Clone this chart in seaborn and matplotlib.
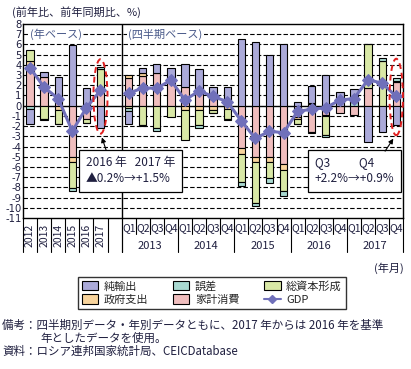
import numpy as np
import pandas as pd
import matplotlib.pyplot as plt
import matplotlib.transforms as mtransforms
from matplotlib.patches import Ellipse, Patch
from matplotlib.lines import Line2D
import seaborn as sns

sns.set_style("white")
plt.rcParams['font.family'] = ['Noto Sans CJK JP', 'DejaVu Sans']

# --- data (annual 2012-2017, then quarterly 2013Q1-2017Q4) ---
years_a = ['2012', '2013', '2014', '2015', '2016', '2017']
q_labels = ['Q1', 'Q2', 'Q3', 'Q4']
q_years = ['2013', '2014', '2015', '2016', '2017']

hh_a = [4.0, 2.85, 0.9, -5.0, -1.3, 1.5]
gov_a = [0.4, 0.0, -0.4, -0.5, 0.0, 0.0]
inv_a = [1.05, -1.35, -1.35, -2.6, -0.35, 2.1]
err_a = [-0.3, -0.05, -0.05, -0.3, -0.05, 0.2]
nx_a = [-1.45, 0.45, 1.9, 5.9, 1.7, -2.2]
gdp_a = [3.7, 1.8, 0.7, -2.5, -0.2, 1.5]

hh_q = [2.75, 2.95, 3.2, 2.35, 1.85, 1.75, 0.7, 0.7,
        -4.1, -5.0, -5.0, -5.75, -1.1, -2.55, -0.92, -0.7,
        -0.92, 1.7, 0.0, 2.35]
gov_q = [0.25, 0.22, 0.0, 0.0, -0.4, -0.4, -0.45, -0.33,
         -0.6, -0.5, -0.5, -0.5, -0.25, 0.2, -0.1, 0.0,
         0.0, 0.0, 0.0, 0.0]
inv_q = [-0.25, -1.85, -2.15, -1.1, -2.95, -1.45, -0.25, -1.0,
         -2.75, -4.0, -1.6, -2.1, -0.4, 0.05, -1.85, 0.0,
         0.0, 4.3, 4.37, 0.1]
err_q = [-0.25, -0.1, -0.35, 0.0, 0.0, -0.3, -0.05, -0.05,
         -0.4, -0.3, -0.5, -0.45, -0.05, -0.1, -0.15, 0.0,
         0.4, 0.05, 0.33, 0.3]
nx_q = [-1.25, 0.53, 0.9, 1.35, 2.25, 1.8, 1.15, 1.15,
        6.5, 6.27, 4.95, 6.05, 0.4, 1.7, 3.0, 1.37,
        1.2, -3.6, -2.55, -1.9]
gdp_q = [1.2, 1.75, 1.7, 2.5, 0.55, 1.45, 0.9, 0.4,
         -1.5, -3.2, -2.5, -2.65, -0.55, -0.35, -0.2, 0.55,
         0.7, 2.55, 2.2, 0.9]

comps = {
    '家計消費': (hh_a, hh_q, '#F0BEBE'),
    '政府支出': (gov_a, gov_q, '#F8D49C'),
    '総資本形成': (inv_a, inv_q, '#D9E8A6'),
    '誤差': (err_a, err_q, '#A9D9D1'),
    '純輸出': (nx_a, nx_q, '#ABAAD9'),
}

pos_a = np.arange(len(years_a))
pos_q = np.arange(len(gdp_q)) + len(years_a) + 1

fig = plt.figure(figsize=(4.11, 3.69), dpi=100)
ax = fig.add_axes([23 / 411, 1 - 218 / 369, 380.3 / 411, 194 / 369])

# grid lines
for v in range(-10, 8):
    if v == 0:
        ax.axhline(v, color='black', lw=1.0, zorder=1)
    else:
        ax.axhline(v, color='black', lw=0.8, ls=(0, (4, 2)), zorder=0)
ax.axvline(6.5, color='black', lw=1.0, zorder=1)

# stacked bars (positive up, negative down)
x_all = np.concatenate([pos_a, pos_q])
pos_base = np.zeros(len(x_all))
neg_base = np.zeros(len(x_all))
for name, (va, vq, col) in comps.items():
    vals = np.array(va + vq)
    up = vals > 0
    dn = vals < 0
    ax.bar(x_all[up], vals[up], bottom=pos_base[up], width=0.52,
           color=col, edgecolor='black', lw=0.8, zorder=2)
    ax.bar(x_all[dn], vals[dn], bottom=neg_base[dn], width=0.52,
           color=col, edgecolor='black', lw=0.8, zorder=2)
    pos_base[up] += vals[up]
    neg_base[dn] += vals[dn]

# GDP line (annual and quarterly drawn separately so the gap stays)
gcol = '#7070BA'
df_a = pd.DataFrame({'x': pos_a, 'gdp': gdp_a})
df_q = pd.DataFrame({'x': pos_q, 'gdp': gdp_q})
for d in (df_a, df_q):
    sns.lineplot(data=d, x='x', y='gdp', ax=ax, color=gcol, lw=2.2,
                 marker='D', markersize=6, markeredgecolor=gcol, zorder=4)

ax.set_xlim(-0.5, 26.5)
ax.set_ylim(-11, 8)
ax.set_yticks(range(-11, 9))
ax.set_yticklabels([str(v) for v in range(-11, 9)], fontsize=7.2,
                   color='#202040', family='DejaVu Sans')
ax.tick_params(axis='y', length=0, pad=1)
ax.set_xticks([])
ax.set_xlabel('')
ax.set_ylabel('')
for s in ax.spines.values():
    s.set_color('black')
    s.set_linewidth(1.0)

# category labels below the axis
trans = mtransforms.blended_transform_factory(ax.transData, ax.transAxes)
fy = lambda py: (218 - py) / 194
for i, y in enumerate(years_a):
    ax.text(pos_a[i], fy(235), y, rotation=90, ha='center', va='center',
            fontsize=7.5, transform=trans, color='#202040')
for i, p in enumerate(pos_q):
    ax.text(p, fy(228), q_labels[i % 4], ha='center', va='center',
            fontsize=7.5, transform=trans, color='#202040')
for j, y in enumerate(q_years):
    ax.text(pos_q[4 * j] + 1.5, fy(246), y, ha='center', va='center',
            fontsize=8, transform=trans, color='#202040')
for k in range(8):
    ax.plot([k - 0.5, k - 0.5], [0, fy(252)], color='black', lw=0.8,
            transform=trans, clip_on=False)
for k in range(21):
    xb = 6.5 + k
    low = fy(252) if k % 4 == 0 else fy(234)
    ax.plot([xb, xb], [0, low], color='black', lw=0.8,
            transform=trans, clip_on=False)

# section labels
box_w = dict(facecolor='white', edgecolor='none', pad=1)
ax.text(0.0, 7, '(年ベース)', fontsize=8, color='#4A5A8A', va='center',
        ha='left', bbox=box_w, zorder=3)
ax.text(6.95, 7, '(四半期ベース)', fontsize=8, color='#4A5A8A', va='center',
        ha='left', bbox=box_w, zorder=3)

# red dashed ellipses
ax.add_patch(Ellipse((5.0, 0.9), 1.0, 7.3, fill=False, ec='#E02020',
                     lw=1.4, ls=(0, (3, 2)), zorder=5))
ax.add_patch(Ellipse((26.0, 0.85), 0.95, 7.5, fill=False, ec='#E02020',
                     lw=1.4, ls=(0, (3, 2)), zorder=5, clip_on=False))

# callouts
box_k = dict(boxstyle='square,pad=0.55', facecolor='white', edgecolor='black', lw=0.9)
ax.text(3.97, -6.35, '2016 年   2017 年\n▲0.2%→+1.5%', fontsize=8.5,
        color='#202040', ha='left', va='center', linespacing=1.3,
        bbox=box_k, zorder=6)
ax.annotate('', xy=(5.04, -2.85), xytext=(5.46, -4.6),
            arrowprops=dict(arrowstyle='-|>', color='black', lw=0.8,
                            mutation_scale=7), zorder=6)
ax.text(20.22, -6.35, 'Q3           Q4\n+2.2%→+0.9%', fontsize=8.5,
        color='#202040', ha='left', va='center', linespacing=1.3,
        bbox=box_k, zorder=6)
ax.annotate('', xy=(25.9, -3.0), xytext=(25.1, -4.68),
            arrowprops=dict(arrowstyle='-|>', color='black', lw=0.8,
                            mutation_scale=7), zorder=6)

# legend
order = ['純輸出', '政府支出', '誤差', '家計消費', '総資本形成']
handles = [Patch(facecolor=comps[n][2], edgecolor='black', lw=0.8, label=n) for n in order]
handles.append(Line2D([], [], color=gcol, lw=1.5, marker='D', markersize=4, label='GDP'))
leg = fig.legend(handles=handles, loc='upper center',
                 bbox_to_anchor=(0.515, 1 - 277 / 369), ncol=3,
                 fontsize=8, frameon=True, fancybox=False, edgecolor='black',
                 handlelength=1.5, handleheight=0.9, columnspacing=2.2,
                 borderpad=0.35, labelspacing=0.25, handletextpad=0.5,
                 borderaxespad=0)
leg.get_frame().set_linewidth(1.0)

# titles and notes
fig.text(12 / 411, 1 - 12 / 369, '(前年比、前年同期比、%)', fontsize=8,
         va='center', ha='left', color='#202040')
fig.text(404 / 411, 1 - 268 / 369, '(年月)', fontsize=8, va='center',
         ha='right', color='#202040')
fig.text(2 / 411, 1 - 325 / 369, '備考：四半期別データ・年別データともに、2017 年からは 2016 年を基準',
         fontsize=8.3, va='center', ha='left', color='#202040')
fig.text(40 / 411, 1 - 338 / 369, '年としたデータを使用。', fontsize=8.3,
         va='center', ha='left', color='#202040')
fig.text(2 / 411, 1 - 351 / 369, '資料：ロシア連邦国家統計局、CEICDatabase',
         fontsize=8.3, va='center', ha='left', color='#202040')

fig.savefig('out.png', dpi=100)
